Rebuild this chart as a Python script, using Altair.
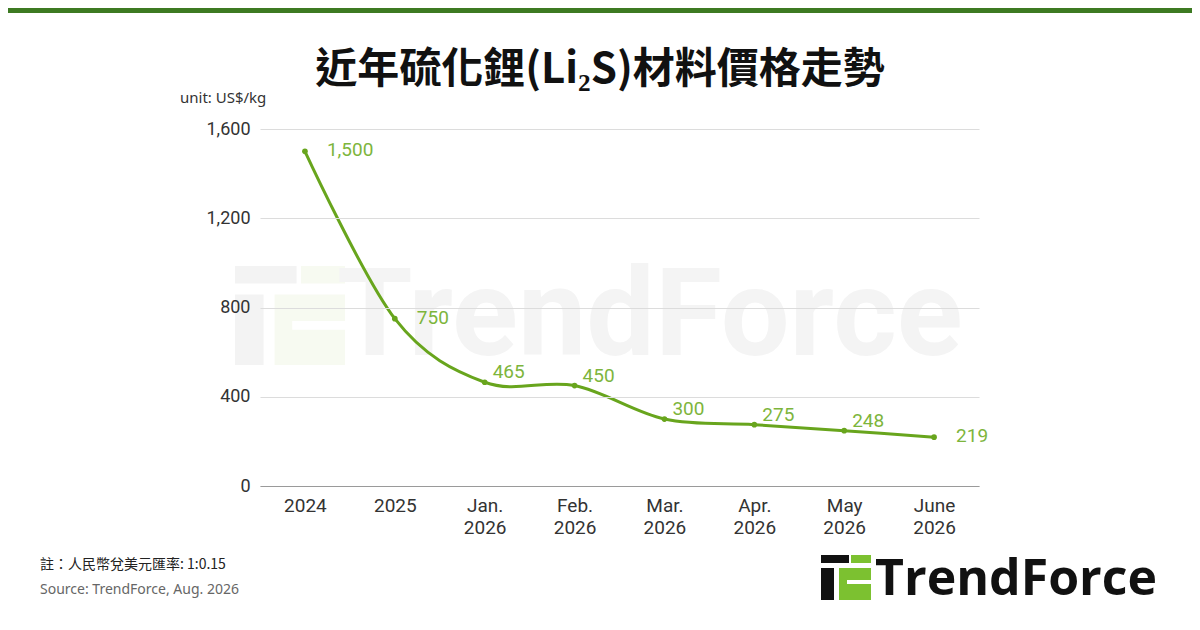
import altair as alt
import pandas as pd

# ---------------- data ----------------
categories = ["2024", "2025", "Jan.|2026", "Feb.|2026", "Mar.|2026",
              "Apr.|2026", "May|2026", "June|2026"]
prices = [1500, 750, 465, 450, 300, 275, 248, 219]
side_label_prices = [1500, 750, 219]
y_ticks = [0, 400, 800, 1200, 1600]

title_text = "近年硫化鋰(Li₂S)材料價格走勢"
unit_text = "unit: US$/kg"
note_text = "註：人民幣兌美元匯率: 1:0.15"
source_text = "Source: TrendForce, Aug. 2026"
brand_text = "TrendForce"

df = pd.DataFrame({"cat": categories, "price": prices})
one = pd.DataFrame({"a": [0]})

# page position of plot origin (page has 8px margin)
OX, OY = 260, 129
PW, PH = 719, 357


def px(x):
    return x - OX


def py(y):
    return y - OY


LINE = "#68a51d"
LABEL = "#7db53c"

x_enc = alt.X(
    "cat:N", sort=categories,
    scale=alt.Scale(type="point", padding=0.5),
    axis=alt.Axis(title=None, labelExpr="split(datum.label, '|')",
                  labelAngle=0, labelFontSize=19, labelColor="#333333",
                  labelPadding=10, labelLineHeight=22, ticks=False,
                  domainColor="#9a9a9a", domainWidth=1.2, grid=False,
                  labelFont="Roboto", zindex=1),
)
y_enc = alt.Y(
    "price:Q", scale=alt.Scale(domain=[0, 1600], nice=False),
    axis=alt.Axis(title=None, values=y_ticks, format=",d", labelFontSize=18,
                  labelColor="#333333", labelPadding=10, ticks=False,
                  domain=False, gridColor="#dcdcdc", gridWidth=1.2,
                  labelFont="Roboto", zindex=1),
)

base = alt.Chart(df)
line = base.mark_line(interpolate="cardinal", strokeWidth=3, color=LINE).encode(x=x_enc, y=y_enc)
dots = base.mark_circle(size=32, color=LINE, opacity=1).encode(x=x_enc, y=y_enc)
labels_up = base.transform_filter(
    f"indexof({side_label_prices}, datum.price) < 0"
).mark_text(align="left", baseline="middle", dx=8, dy=-10, fontSize=19,
            color=LABEL, font="Roboto").encode(
    x=x_enc, y=y_enc, text=alt.Text("price:Q", format=",d"))
labels_side = base.transform_filter(
    f"indexof({side_label_prices}, datum.price) >= 0"
).mark_text(align="left", baseline="middle", dx=22, dy=-1, fontSize=19,
            color=LABEL, font="Roboto").encode(
    x=x_enc, y=y_enc, text=alt.Text("price:Q", format=",d"))


def txt(text, x, y, size, color, font, weight="normal", align="left"):
    return alt.Chart(one).mark_text(
        text=text, align=align, baseline="middle", fontSize=size,
        color=color, font=font, fontWeight=weight,
    ).encode(x=alt.value(px(x)), y=alt.value(py(y)))


def box(x1, y1, x2, y2, color):
    return alt.Chart(one).mark_rect(color=color).encode(
        x=alt.value(px(x1)), x2=alt.value(px(x2)),
        y=alt.value(py(y1)), y2=alt.value(py(y2)))


def icon(x0, y0, s, dark, green, slot):
    parts = [
        (0, 0, 28, 8, dark),
        (30, 0, 50, 8, green),
        (0, 13, 13, 45, dark),
        (18, 13, 50, 45, green),
        (26, 25, 50, 29, slot),
    ]
    return [box(x0 + a * s, y0 + b * s, x0 + c * s, y0 + d * s, col)
            for a, b, c, d, col in parts]


layers = []
# watermark
layers += icon(235, 266, 2.2, "#f3f3f3", "#f7faf1", "#ffffff")
layers.append(txt(brand_text, 337, 318, 122, "#f4f4f4", "Roboto", "bold"))
# chart
layers += [line, dots, labels_up, labels_side]
# top bar
layers.append(box(-10, 8, 1210, 13, "#3d7a22"))
# texts
layers.append(txt(title_text, 600, 70, 42, "#111111", "Noto Sans CJK TC", "bold", "center"))
layers.append(txt(unit_text, 180, 98, 15, "#333333", "Noto Sans"))
layers.append(txt(note_text, 40, 565, 14, "#222222", "Noto Sans CJK TC"))
layers.append(txt(source_text, 40, 590, 14, "#666666", "Noto Sans"))
# logo
layers += icon(821, 555, 1.0, "#111111", "#7cc130", "#ffffff")
layers.append(txt(brand_text, 875, 580, 50, "#111111", "Open Sans", "bold"))

chart = alt.layer(*layers).properties(
    width=PW, height=PH,
    autosize=alt.AutoSizeParams(type="none"),
    padding={"left": OX - 8, "top": OY - 8, "right": 1184 - (OX - 8) - PW,
             "bottom": 614 - (OY - 8) - PH},
    background="white",
).configure_view(stroke=None)

chart.save("out.html", embed_options={"renderer": "svg", "actions": False})
